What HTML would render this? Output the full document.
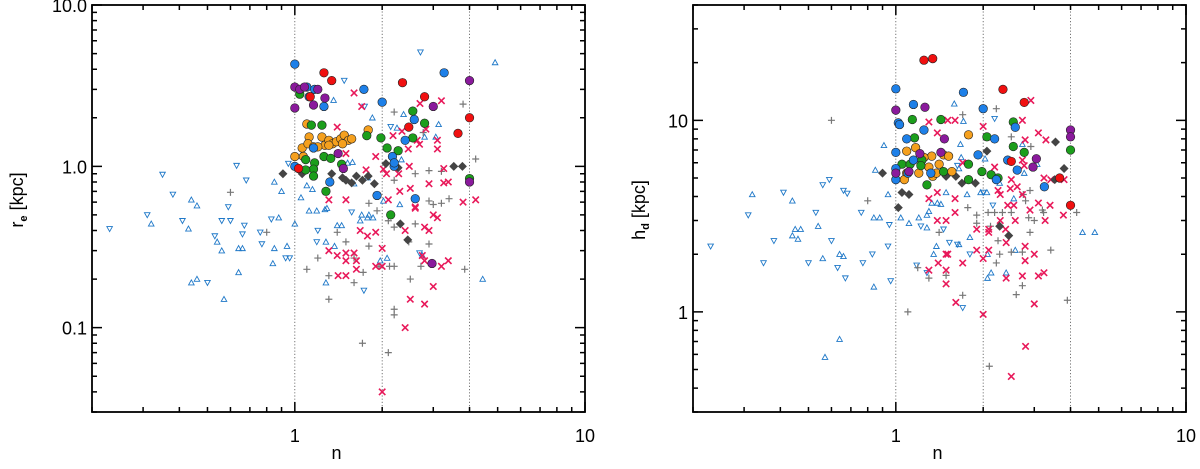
<!DOCTYPE html>
<html><head><meta charset="utf-8"><style>
html,body{margin:0;padding:0;background:#fff;}
svg{display:block;font-family:"Liberation Sans",sans-serif;}
</style></head><body>
<svg id="chart" width="1200" height="469" viewBox="0 0 1200 469" xmlns="http://www.w3.org/2000/svg"></svg>
<script>
// ---------- LEFT PANEL DATA: [n, r_e] ----------
const leftTriUp=[[0.32,0.44],[0.44,0.62],[0.46,0.57],[0.43,0.41],[0.54,0.34],[0.56,0.3],[0.64,0.31],[0.66,0.31],[0.64,0.22],[0.46,0.2],[0.44,0.19],[0.57,0.15],[0.85,0.8],[0.9,0.7],[0.88,0.48],[0.85,0.31],[0.84,0.25],[0.94,0.32],[1.0,0.44],[1.05,0.64],[1.1,0.76],[1.15,0.72],[1.12,0.53],[1.19,0.53],[1.27,0.54],[1.29,0.55],[1.28,0.34],[1.37,0.32],[1.4,0.43],[1.45,0.43],[1.28,0.19],[1.36,2.57],[1.52,1.05],[1.58,1.06],[1.6,0.78],[1.78,0.85],[1.8,0.5],[1.85,2.0],[1.7,0.5],[1.68,0.46],[1.78,0.48],[1.86,0.48],[2.08,0.27],[1.97,0.26],[2.02,0.61],[2.37,2.1],[2.25,1.73],[2.8,1.52],[3.06,1.52],[3.13,1.82],[2.75,0.28],[2.3,0.58],[4.44,0.2],[4.9,4.4],[2.33,1.1]];
const leftTriDown=[[0.23,0.41],[0.31,0.5],[0.35,0.89],[0.38,0.67],[0.41,0.46],[0.5,0.19],[0.53,0.37],[0.56,0.46],[0.6,0.46],[0.59,0.56],[0.63,1.01],[0.66,0.38],[0.67,0.43],[0.68,0.82],[0.76,0.39],[0.77,0.33],[0.83,0.47],[0.93,0.27],[0.96,0.27],[0.95,1.04],[1.19,0.34],[1.2,0.4],[1.48,3.4],[1.57,0.52],[1.73,0.17],[1.74,2.35],[2.71,5.1],[2.69,0.29],[2.14,1.76]];
const leftPlus=[[0.6,0.69],[0.8,0.39],[2.2,2.17],[3.8,2.43],[2.77,1.62],[4.2,1.11],[2.9,0.94],[2.6,0.9],[2.2,0.82],[3.2,0.93],[3.4,0.63],[2.9,0.61],[3.2,0.59],[3.0,0.58],[1.8,0.59],[1.92,0.53],[2.1,0.46],[2.2,0.42],[2.6,0.44],[1.4,0.39],[1.5,0.34],[1.8,0.32],[2.47,0.34],[2.9,0.33],[1.2,0.27],[1.6,0.27],[1.1,0.23],[1.95,0.24],[2.12,0.24],[2.2,0.24],[2.72,0.24],[3.85,0.23],[1.31,0.21],[1.6,0.19],[1.72,0.22],[2.5,0.2],[1.31,0.15],[2.2,0.13],[2.2,0.12],[1.71,0.08],[2.1,0.07]];
const leftCross=[[1.6,2.85],[1.7,2.35],[1.4,1.75],[2.18,1.55],[2.34,1.65],[2.83,1.7],[2.64,1.45],[2.69,1.37],[2.46,1.28],[3.1,1.45],[3.1,1.28],[3.2,2.55],[2.7,2.45],[1.5,1.2],[1.9,1.15],[1.76,0.95],[2.02,0.96],[2.28,0.9],[2.48,1.0],[2.07,0.9],[2.9,0.78],[3.26,0.79],[3.38,0.8],[3.26,0.97],[2.5,0.73],[2.3,0.7],[1.31,0.62],[1.5,0.62],[2.1,0.62],[2.6,0.55],[2.6,0.56],[3.0,0.5],[3.1,0.48],[2.8,0.42],[2.9,0.4],[2.4,0.4],[1.68,0.4],[1.78,0.37],[1.9,0.39],[2.0,0.31],[1.31,0.3],[1.4,0.28],[1.5,0.29],[1.6,0.29],[1.5,0.26],[1.63,0.26],[1.41,0.21],[1.5,0.21],[1.63,0.23],[1.9,0.24],[2.0,0.24],[2.75,0.28],[2.8,0.26],[3.2,0.24],[3.38,0.26],[3.0,0.18],[2.5,0.15],[2.8,0.14],[2.4,0.1],[2.0,0.04],[3.8,0.6],[4.2,0.62]];
const leftDiamond=[[0.91,0.9],[1.06,0.9],[1.34,0.9],[1.46,0.85],[1.57,0.79],[1.63,0.87],[1.71,0.82],[1.79,0.87],[1.88,0.78],[2.06,1.04],[2.27,0.98],[2.31,0.44],[2.45,0.35],[3.53,1.0],[3.78,1.0],[1.5,0.82]];
const leftOrange=[[1.1,1.83],[1.12,1.52],[1.06,1.3],[1.0,1.15],[1.07,1.15],[1.11,1.38],[1.16,1.32],[1.24,1.52],[1.27,1.35],[1.31,1.45],[1.35,1.38],[1.39,1.42],[1.44,1.48],[1.48,1.56],[1.53,1.45],[1.57,1.48],[1.79,1.68],[1.31,1.35],[1.2,1.32],[1.46,1.38]];
const leftGreen=[[1.14,1.8],[1.24,1.8],[1.77,1.55],[1.98,1.5],[2.55,2.2],[2.8,1.85],[2.55,1.5],[2.08,1.3],[2.27,1.25],[1.09,1.1],[1.17,1.05],[1.26,1.15],[1.33,1.12],[1.16,0.96],[1.16,0.87],[1.09,0.95],[1.28,0.7],[1.45,1.03],[2.14,0.5],[4.0,0.84],[1.04,2.8]];
const leftBlue=[[1.0,4.3],[1.73,3.0],[2.0,2.5],[3.27,3.8],[1.1,3.1],[1.17,3.0],[1.12,2.7],[1.26,2.35],[1.16,1.3],[2.4,1.45],[2.58,1.95],[2.17,1.15],[2.2,1.0],[1.92,0.66],[2.6,0.63],[1.32,0.8],[1.0,1.0],[2.2,1.05]];
const leftPurple=[[1.0,3.1],[1.04,3.0],[1.0,2.3],[1.08,3.1],[1.2,3.0],[1.27,2.65],[1.16,2.4],[1.41,1.2],[1.47,0.97],[3.0,2.35],[4.0,3.4],[4.0,0.8],[2.97,0.25]];
const leftRed=[[1.26,3.8],[1.34,3.4],[2.35,3.3],[2.8,2.7],[4.0,2.0],[3.65,1.6],[2.47,1.75],[1.03,0.97],[1.13,2.7]];

// ---------- RIGHT PANEL DATA: [n, h_d] ----------
const rightTriUp=[[0.32,4.1],[0.44,3.8],[0.45,2.7],[0.47,2.7],[0.44,2.5],[0.46,2.4],[0.54,2.8],[0.56,1.9],[0.64,2.0],[0.66,1.95],[0.57,0.58],[0.64,0.72],[0.84,1.35],[0.84,3.1],[0.88,3.1],[0.85,5.5],[0.91,7.4],[0.94,4.1],[1.04,3.1],[1.11,2.9],[1.2,3.1],[1.28,3.2],[1.28,2.75],[1.3,3.35],[1.33,3.7],[1.39,3.7],[1.43,3.65],[1.49,4.2],[1.59,12.2],[1.71,9.9],[1.67,7.5],[1.76,4.1],[1.35,2.0],[1.38,2.2],[1.65,2.25],[1.8,2.45],[2.07,2.0],[2.13,1.6],[2.07,1.5],[2.4,1.6],[2.55,3.9],[2.58,2.1],[2.28,4.7],[2.73,7.5],[2.77,5.3],[4.4,2.6],[4.85,2.6],[3.07,5.9],[2.06,4.2],[1.96,4.2],[1.65,5.6],[2.03,6.3],[1.68,6.4]];
const rightTriDown=[[0.23,2.2],[0.31,3.2],[0.35,1.8],[0.38,2.35],[0.41,4.2],[0.5,1.8],[0.53,3.3],[0.56,4.6],[0.59,4.9],[0.6,2.35],[0.63,1.7],[0.67,1.5],[0.66,4.3],[0.68,4.15],[0.76,3.3],[0.77,1.8],[0.83,2.0],[0.94,2.2],[0.95,2.85],[0.96,1.45],[1.18,1.75],[1.22,2.8],[1.28,1.6],[1.46,2.7],[1.53,2.3],[1.63,2.25],[1.7,1.05],[1.8,2.0],[2.19,10.2],[2.16,3.6],[1.63,5.8],[2.0,4.2]];
const rightPlus=[[0.6,10],[0.8,3.8],[2.22,11.5],[1.7,10.7],[2.5,8.2],[2.92,7.3],[2.75,4.1],[2.9,4.3],[2.8,3.8],[1.77,3.5],[1.9,3.2],[2.08,3.3],[2.19,3.3],[2.33,3.3],[2.5,3.3],[2.87,3.1],[3.2,3.4],[3.23,3.3],[4.2,3.3],[3.0,3.0],[1.9,2.9],[2.12,2.8],[2.25,2.35],[2.9,2.6],[2.28,2.0],[2.5,2.05],[3.42,2.1],[2.22,1.8],[2.73,2.05],[1.41,2.6],[1.3,1.5],[1.49,1.55],[2.73,1.37],[2.6,1.23],[1.7,1.22],[3.9,1.15],[1.1,1.0],[2.1,0.52],[1.19,1.7]];
const rightCross=[[1.3,9.8],[1.39,8.6],[1.51,10],[1.6,10],[2.0,9.3],[2.73,10],[2.92,12.7],[2.79,7.9],[3.1,8.6],[3.29,7.9],[1.7,6.0],[2.19,5.7],[2.73,6.2],[2.77,5.8],[2.5,4.9],[2.62,4.5],[2.48,4.4],[2.29,4.1],[2.73,4.1],[3.24,5.0],[3.42,4.9],[3.8,4.9],[1.3,3.9],[1.39,4.2],[1.6,3.9],[2.25,4.3],[3.1,3.7],[3.4,3.6],[2.43,3.6],[2.55,3.6],[2.9,3.4],[1.6,3.3],[1.39,3.0],[1.49,3.0],[2.29,3.0],[2.58,3.0],[3.27,3.0],[3.78,3.2],[1.9,2.7],[2.09,2.6],[2.09,2.7],[2.39,2.7],[2.79,2.2],[3.0,2.0],[2.09,2.1],[1.9,2.1],[2.4,2.3],[1.49,2.0],[1.51,2.0],[1.4,1.8],[1.7,1.8],[2.0,1.9],[2.79,1.85],[1.3,1.65],[1.49,1.65],[1.49,1.4],[2.4,1.5],[2.73,1.54],[3.1,1.54],[3.24,1.6],[1.61,1.12],[3.0,1.1],[2.0,0.97],[2.8,0.66],[2.5,0.46]];
const rightDiamond=[[0.9,5.3],[1.05,4.2],[1.11,4.1],[1.02,3.5],[1.49,5.1],[1.61,5.1],[1.69,4.7],[1.88,4.7],[2.06,6.9],[3.55,7.7],[3.8,5.6],[2.28,2.8],[2.45,2.5],[3.53,4.9]];
const rightOrange=[[1.78,8.4],[1.09,6.9],[1.17,7.2],[1.09,5.3],[1.07,4.9],[1.2,5.3],[1.3,5.7],[1.33,6.5],[1.41,5.9],[1.46,6.6],[1.52,6.5],[1.56,5.4],[1.25,6.4],[1.34,5.1],[1.38,5.3]];
const rightGreen=[[1.14,10.1],[1.43,10.1],[1.16,8.1],[2.06,8.2],[1.78,5.9],[2.54,9.8],[2.54,7.3],[2.77,6.8],[4.0,7.0],[1.05,5.9],[1.12,5.9],[1.23,6.2],[1.28,4.6],[1.46,5.4],[1.78,4.9],[1.98,5.4],[2.13,5.2],[2.25,5.0],[1.22,5.8]];
const rightBlue=[[1.0,14.6],[1.71,14.0],[1.15,12.1],[2.0,11.5],[1.02,9.7],[1.03,9.5],[1.25,8.9],[2.58,9.2],[1.09,8.0],[2.19,8.0],[1.0,6.8],[1.92,6.6],[1.15,6.2],[2.43,6.2],[2.62,5.5],[1.0,5.6],[1.0,4.9],[1.32,5.3],[2.22,4.9],[3.25,4.5],[1.1,5.3]];
const rightPurple=[[1.0,11.3],[1.26,11.7],[1.47,8.0],[4.0,8.9],[4.0,8.2],[3.05,6.3],[2.97,5.7],[1.0,5.3],[1.21,6.7],[1.43,6.8],[1.11,5.4]];
const rightRed=[[1.25,20.6],[1.34,21],[2.34,14.5],[2.77,12.4],[3.67,5.0],[4.0,3.6],[2.5,6.1]];

// tick labels
const leftYTickVals=[0.1,1,10];
const leftYTickLabels=["0.1","1.0","10.0"];
const rightYTickVals=[1,10];
const rightYTickLabels=["1","10"];
const xTickVals=[1,10];
const xTickLabels=["1","10"];
const guideVals=[1,2,4];

const NS="http://www.w3.org/2000/svg";
const svg=document.getElementById('chart');
function mk(tag,attrs,parent){const e=document.createElementNS(NS,tag);for(const k in attrs)e.setAttribute(k,attrs[k]);(parent||svg).appendChild(e);return e;}

function panel(cfg){
  const g=mk('g',{});
  
  
  const L=Math.log10;
  const xs=v=>cfg.x0+(L(v)-L(cfg.xmin))/(L(cfg.xmax)-L(cfg.xmin))*(cfg.x1-cfg.x0);
  const ys=v=>cfg.y1-(L(v)-L(cfg.ymin))/(L(cfg.ymax)-L(cfg.ymin))*(cfg.y1-cfg.y0);
  // guide lines
  guideVals.forEach(v=>{
    const l=mk('line',{x1:xs(v),x2:xs(v),y1:cfg.y0,y2:cfg.y1,stroke:'#555','stroke-width':0.8,'stroke-dasharray':'1.2,2'},g);
    
    
  });
  // markers
  const mg=mk('g',{},g);
  
  
  function tri(d,up){d.forEach(p=>{const x=xs(p[0]),y=ys(p[1]);const s=2.8;
    const pts=up?`${x},${y-s} ${x-s},${y+s*0.8} ${x+s},${y+s*0.8}`:`${x},${y+s} ${x-s},${y-s*0.8} ${x+s},${y-s*0.8}`;
    const e=mk('polygon',{points:pts,fill:'none',stroke:'#1f78c8','stroke-width':0.9},mg);
    
    });}
  function plus(d){d.forEach(p=>{const x=xs(p[0]),y=ys(p[1]),s=3.5;
    const e=mk('path',{d:`M${x-s},${y}H${x+s}M${x},${y-s}V${y+s}`,stroke:'#777','stroke-width':1.2,fill:'none'},mg);
    
    });}
  function cross(d){d.forEach(p=>{const x=xs(p[0]),y=ys(p[1]),s=3.2;
    const e=mk('path',{d:`M${x-s},${y-s}L${x+s},${y+s}M${x-s},${y+s}L${x+s},${y-s}`,stroke:'#e8195a','stroke-width':1.6,fill:'none'},mg);
    
    });}
  function diamond(d){d.forEach(p=>{const x=xs(p[0]),y=ys(p[1]),s=4.5;
    const e=mk('polygon',{points:`${x},${y-s} ${x+s},${y} ${x},${y+s} ${x-s},${y}`,fill:'#444'},mg);
    
    });}
  function circ(d,col,nm){d.forEach(p=>{
    const e=mk('circle',{cx:xs(p[0]),cy:ys(p[1]),r:4.3,fill:col,stroke:'#222','stroke-width':0.6},mg);
    
    });}
  tri(cfg.d.tu,true);tri(cfg.d.td,false);plus(cfg.d.plus);cross(cfg.d.cross);diamond(cfg.d.dia);
  circ(cfg.d.orange,'#f5a01e','orange-circle-point');circ(cfg.d.green,'#1c9e1c','green-circle-point');
  circ(cfg.d.blue,'#1e80e8','blue-circle-point');circ(cfg.d.purple,'#8a1a9c','purple-circle-point');
  circ(cfg.d.red,'#f01010','red-circle-point');
  // frame
  const fr=mk('rect',{x:cfg.x0,y:cfg.y0,width:cfg.x1-cfg.x0,height:cfg.y1-cfg.y0,fill:'none',stroke:'#000','stroke-width':1.8},g);
  
  
  // ticks
  let tp='';
  for(let e=-1;e<=1;e++)for(let m=1;m<=9;m++){const v=m*Math.pow(10,e);if(v<cfg.xmin*0.999||v>cfg.xmax*1.001)continue;const x=xs(v),len=m===1?10:5;
    tp+=`M${x},${cfg.y1}V${cfg.y1-len}M${x},${cfg.y0}V${cfg.y0+len}`;}
  for(let e=-2;e<=1;e++)for(let m=1;m<=9;m++){const v=m*Math.pow(10,e);if(v<cfg.ymin*0.999||v>cfg.ymax*1.001)continue;const y=ys(v),len=m===1?10:5;
    tp+=`M${cfg.x0},${y}H${cfg.x0+len}M${cfg.x1},${y}H${cfg.x1-len}`;}
  const tk=mk('path',{d:tp,stroke:'#000','stroke-width':1.5,fill:'none'},g);
  
  
  xTickVals.forEach((v,i)=>{const t=mk('text',{x:xs(v),y:442,'text-anchor':'middle','font-size':18},g);t.textContent=xTickLabels[i];
    
    });
  cfg.yv.forEach((v,i)=>{const t=mk('text',{x:cfg.x0-5,y:ys(v)+7,'text-anchor':'end','font-size':18},g);t.textContent=cfg.yl[i];
    
    });
  const xt=mk('text',{x:(cfg.x0+cfg.x1)/2-2,y:459,'text-anchor':'middle','font-size':18},g);xt.textContent='n';
  
  
  const yt=mk('text',{x:0,y:0,'text-anchor':'middle','font-size':18,transform:`translate(${cfg.tx},${cfg.ty}) rotate(-90)`},g);
  
  
  const a=mk('tspan',{},yt);a.textContent=cfg.tsym;
  const b=mk('tspan',{'font-size':11,dy:4,'font-weight':'bold'},yt);b.textContent=cfg.tsub;
  const c=mk('tspan',{dy:-4},yt);c.textContent=' [kpc]';
}
panel({name:'left-panel-re',x0:92,x1:585,y0:5,y1:412,xmin:0.2,xmax:10,ymin:0.03,ymax:10,yv:leftYTickVals,yl:leftYTickLabels,tx:23,ty:200,tsym:'r',tsub:'e',
  d:{tu:leftTriUp,td:leftTriDown,plus:leftPlus,cross:leftCross,dia:leftDiamond,orange:leftOrange,green:leftGreen,blue:leftBlue,purple:leftPurple,red:leftRed}});
panel({name:'right-panel-hd',x0:693,x1:1186,y0:5,y1:412,xmin:0.2,xmax:10,ymin:0.3,ymax:40,yv:rightYTickVals,yl:rightYTickLabels,tx:645,ty:210,tsym:'h',tsub:'d',
  d:{tu:rightTriUp,td:rightTriDown,plus:rightPlus,cross:rightCross,dia:rightDiamond,orange:rightOrange,green:rightGreen,blue:rightBlue,purple:rightPurple,red:rightRed}});
</script>
</body></html>
